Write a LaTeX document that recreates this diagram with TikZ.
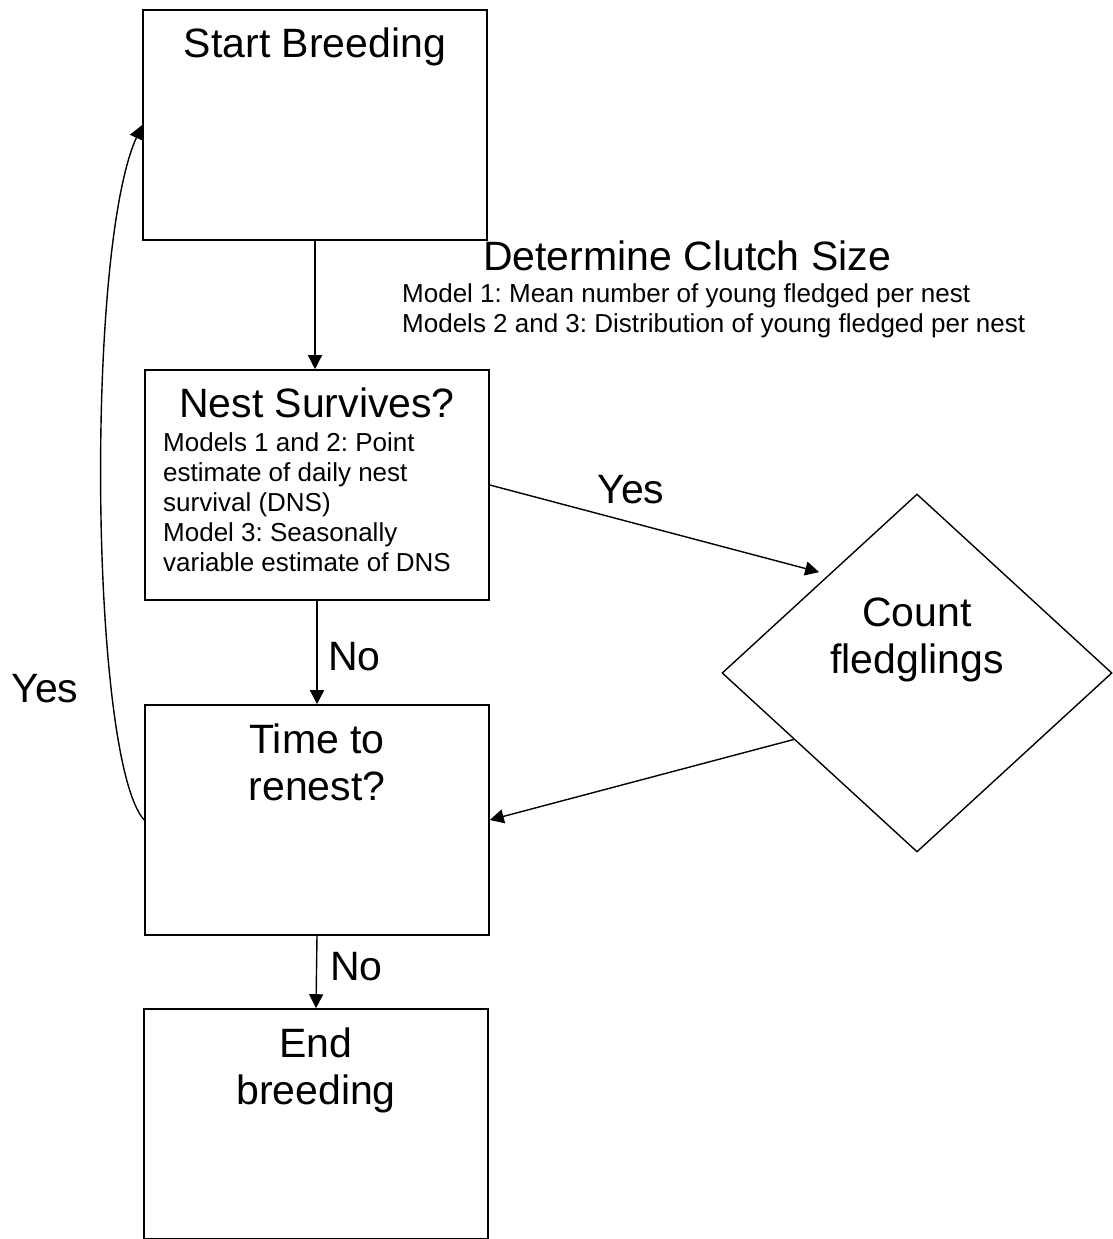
\documentclass[tikz,border=0pt]{standalone}
\usepackage{fontspec}
\setmainfont{Liberation Sans}
\frenchspacing
\usetikzlibrary{shapes.geometric,arrows.meta,calc}
\tikzset{
  box/.style={draw,line width=1.6pt,minimum width=344pt,minimum height=230pt,inner sep=0pt},
  big/.style={font=\fontsize{41}{47}\selectfont,inner sep=0pt},
  small/.style={font=\fontsize{26}{30}\selectfont,inner sep=0pt,align=left,anchor=north west},
  arr/.style={-{Triangle[length=14pt,width=14pt]},line width=1.4pt}
}
\begin{document}
\begin{tikzpicture}[x=1pt,y=-1pt]
\useasboundingbox (0,0) rectangle (1112,1239);
%start breeding
\node[box] (start) at (315,125) {};
\node[big,anchor=base] (start-txt) at (315,57) {Start Breeding};

%clutch size
\node[big,anchor=base] (clutch) at (687,270) {Determine Clutch Size};
\node[small] (clutch-txt) at (402,283) {Model 1: Mean number of young fledged per nest\\Models 2 and 3: Distribution of young fledged per nest};

%nest survives
\node[box] (nest) at (317,485) {};
\node[big,anchor=base] (nest-txt) at (317,417) {Nest Survives?};
\node[small] (dns-txt) at (163,432) {Models 1 and 2: Point\\estimate of daily nest\\survival (DNS)\\Model 3: Seasonally\\variable estimate of DNS};

%count fledglings
\node[draw,diamond,line width=1.4pt,minimum width=390pt,minimum height=358pt,inner sep=0pt] (count) at (917,673) {};
\node[big,align=center] (count-txt) at (917,640) {Count\\fledglings};

%time to renest
\node[box] (time) at (317,820) {};
\node[big,align=center] (time-txt) at (317,762) {Time to\\renest?};

%end breeding
\node[box] (end) at (316,1124) {};
\node[big,align=center] (end-txt) at (316,1070) {End\\breeding};

%connectors
\draw[arr] (start.south) -- (start.south |- nest.north);
\draw[arr] (nest.south) -- (time.north);
\draw[arr] (time.south) -- (end.north);
\draw[arr] (nest.east) -- ([yshift=11pt]count.north west);
\draw[arr] ($(count.west)!0.37!(count.south)$) -- (time.east);
\draw[arr] (time.west) .. controls (90,760) and (85,250) .. (start.west);

%labels
\node[big,anchor=base] (yes-count) at (631,503) {Yes};
\node[big,anchor=base west] (no-nest) at (328,670) {No};
\node[big,anchor=base west] (no-time) at (330,980) {No};
\node[big,anchor=base] (yes-renest) at (45,702) {Yes};
\end{tikzpicture}
\end{document}
